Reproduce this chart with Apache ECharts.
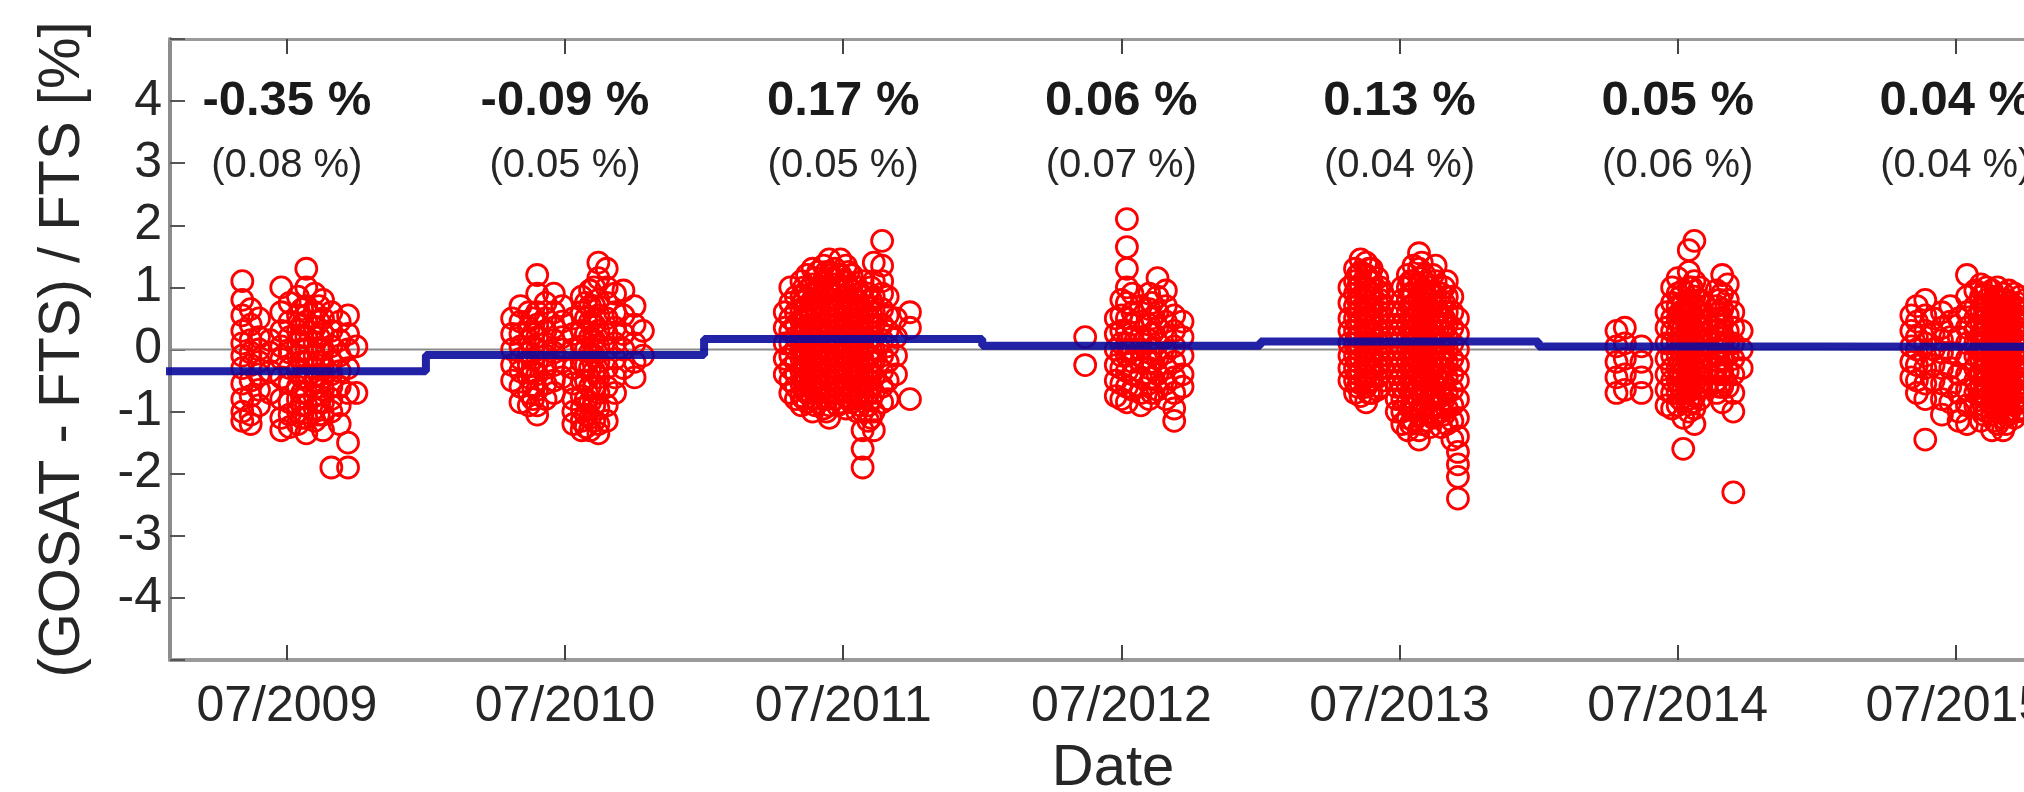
<!DOCTYPE html>
<html>
<head>
<meta charset="utf-8">
<script src="https://cdn.jsdelivr.net/npm/echarts@6/dist/echarts.min.js"></script>
<style>
html,body{margin:0;padding:0;background:#fff;}
#chart{width:2024px;height:792px;}
</style>
</head>
<body>
<div id="chart"></div>
<script>
// ---- axis / tick data ----
const xMin = 2009.08;
const xMax = 2015.86;
const xTickValues = [2009.5, 2010.5, 2011.5, 2012.5, 2013.5, 2014.5, 2015.5];
const xTickLabels = ['07/2009', '07/2010', '07/2011', '07/2012', '07/2013', '07/2014', '07/2015'];

// ---- annual bias annotations ----
const meanBiasText = ['-0.35 %', '-0.09 %', '0.17 %', '0.06 %', '0.13 %', '0.05 %', '0.04 %'];
const stdBiasText = ['(0.08 %)', '(0.05 %)', '(0.05 %)', '(0.07 %)', '(0.04 %)', '(0.06 %)', '(0.04 %)'];

// ---- annual bias step line (year start, level) ----
const biasYearStart = [2009, 2010, 2011, 2012, 2013, 2014, 2015, 2016];
const biasLevels = [-0.35, -0.09, 0.17, 0.06, 0.13, 0.05, 0.04, 0.04];

// ---- individual coincidences: [decimal date, [relative differences %]] ----
const obs2009 = [
  [2009.34, [1.1, 0.8, 0.55, 0.3, 0.1, -0.1, -0.3, -0.55, -0.8, -1.0, -1.15]],
  [2009.37, [0.65, 0.4, 0.15, -0.05, -0.25, -0.5, -0.75, -1.05, -1.2]],
  [2009.40, [0.5, 0.2, 0.0, -0.2, -0.4, -0.65, -0.9]],
  [2009.44, [0.15, -0.05, -0.35, -0.7]],
  [2009.48, [1.0, 0.6, 0.3, 0.05, -0.15, -0.45, -0.8, -1.1, -1.3]],
  [2009.51, [0.75, 0.45, 0.2, -0.05, -0.3, -0.55, -0.85, -1.05, -1.25]],
  [2009.54, [0.85, 0.55, 0.3, 0.1, -0.1, -0.35, -0.6, -0.8, -1.0, -1.2]],
  [2009.555, [0.65, 0.4, 0.2, 0.0, -0.2, -0.45, -0.7, -0.9, -1.1]],
  [2009.57, [1.3, 1.0, 0.7, 0.45, 0.2, 0.0, -0.2, -0.45, -0.7, -0.9, -1.1, -1.35]],
  [2009.60, [0.9, 0.6, 0.35, 0.1, -0.1, -0.3, -0.5, -0.75, -0.95, -1.15]],
  [2009.615, [0.7, 0.45, 0.2, 0.0, -0.2, -0.4, -0.6, -0.85, -1.05]],
  [2009.63, [0.8, 0.5, 0.25, 0.0, -0.25, -0.45, -0.65, -0.85, -1.05, -1.3]],
  [2009.66, [0.6, 0.3, 0.05, -0.2, -0.4, -0.6, -0.8, -1.0, -1.9]],
  [2009.69, [0.45, 0.15, -0.1, -0.35, -0.6, -0.9, -1.2]],
  [2009.72, [0.55, 0.25, 0.0, -0.3, -0.7, -1.5, -1.9]],
  [2009.75, [0.05, -0.7]]
];
const obs2010 = [
  [2010.31, [0.5, 0.25, 0.0, -0.25, -0.5]],
  [2010.34, [0.7, 0.45, 0.25, 0.05, -0.15, -0.35, -0.6, -0.85]],
  [2010.37, [0.6, 0.35, 0.15, -0.05, -0.25, -0.45, -0.7, -0.9]],
  [2010.385, [0.5, 0.25, 0.05, -0.15, -0.35, -0.6, -0.8]],
  [2010.40, [1.2, 0.9, 0.6, 0.4, 0.2, 0.0, -0.2, -0.4, -0.65, -0.9, -1.05]],
  [2010.43, [0.75, 0.5, 0.3, 0.1, -0.1, -0.3, -0.55, -0.8]],
  [2010.46, [0.9, 0.6, 0.35, 0.15, -0.05, -0.25, -0.5, -0.7]],
  [2010.49, [0.7, 0.45, 0.2, 0.0, -0.2, -0.45]],
  [2010.53, [0.5, 0.25, 0.0, -0.3, -0.55, -0.8, -1.0, -1.2]],
  [2010.56, [0.85, 0.6, 0.3, 0.05, -0.2, -0.5, -0.75, -0.95, -1.15, -1.3]],
  [2010.575, [0.75, 0.5, 0.25, 0.0, -0.25, -0.5, -0.8, -1.05, -1.25]],
  [2010.59, [0.95, 0.7, 0.45, 0.2, -0.05, -0.3, -0.6, -0.85, -1.1, -1.3]],
  [2010.605, [1.0, 0.7, 0.4, 0.15, -0.1, -0.35, -0.6, -0.9, -1.15]],
  [2010.62, [1.4, 1.15, 0.8, 0.55, 0.3, 0.05, -0.2, -0.45, -0.7, -0.95, -1.2, -1.35]],
  [2010.65, [1.3, 1.0, 0.75, 0.5, 0.25, 0.0, -0.3, -0.6, -0.9, -1.15]],
  [2010.68, [0.9, 0.6, 0.35, 0.1, -0.15, -0.45, -0.7]],
  [2010.71, [0.95, 0.55, 0.25, 0.0, -0.3]],
  [2010.75, [0.7, 0.4, 0.1, -0.2, -0.45]],
  [2010.78, [0.3, -0.1]]
];
const obs2011 = [
  [2011.29, [0.6, 0.35, 0.1, -0.15, -0.4]],
  [2011.31, [1.0, 0.75, 0.5, 0.3, 0.1, -0.1, -0.3, -0.5, -0.7]],
  [2011.33, [0.85, 0.6, 0.4, 0.2, 0.0, -0.2, -0.4, -0.6, -0.8]],
  [2011.35, [1.1, 0.85, 0.65, 0.45, 0.25, 0.05, -0.15, -0.35, -0.55, -0.75, -0.9]],
  [2011.36, [1.0, 0.8, 0.55, 0.35, 0.15, -0.05, -0.25, -0.45, -0.65, -0.8]],
  [2011.37, [1.2, 0.95, 0.7, 0.5, 0.3, 0.1, -0.1, -0.3, -0.5, -0.7, -0.85]],
  [2011.39, [1.3, 1.05, 0.8, 0.6, 0.4, 0.2, 0.0, -0.2, -0.4, -0.6, -0.8, -1.0]],
  [2011.40, [1.15, 0.9, 0.7, 0.5, 0.3, 0.1, -0.1, -0.3, -0.5, -0.7, -0.9]],
  [2011.41, [1.25, 1.0, 0.75, 0.55, 0.35, 0.15, -0.05, -0.25, -0.45, -0.65, -0.85]],
  [2011.43, [1.35, 1.1, 0.9, 0.65, 0.45, 0.25, 0.05, -0.15, -0.35, -0.55, -0.75, -0.95]],
  [2011.44, [1.25, 1.0, 0.8, 0.6, 0.4, 0.2, 0.0, -0.2, -0.4, -0.6, -0.8, -1.0]],
  [2011.45, [1.45, 1.2, 0.95, 0.7, 0.5, 0.3, 0.1, -0.1, -0.3, -0.5, -0.7, -0.9, -1.1]],
  [2011.47, [1.3, 1.05, 0.8, 0.6, 0.4, 0.2, 0.0, -0.2, -0.4, -0.6, -0.8]],
  [2011.48, [1.2, 1.0, 0.7, 0.5, 0.3, 0.1, -0.1, -0.3, -0.5, -0.7, -0.9]],
  [2011.49, [1.45, 1.2, 0.95, 0.75, 0.55, 0.35, 0.15, -0.05, -0.25, -0.45, -0.65, -0.85]],
  [2011.51, [1.35, 1.1, 0.85, 0.65, 0.45, 0.25, 0.05, -0.15, -0.35, -0.55, -0.75, -0.95]],
  [2011.52, [1.25, 1.0, 0.8, 0.6, 0.4, 0.2, 0.0, -0.2, -0.4, -0.6, -0.8]],
  [2011.53, [1.2, 0.95, 0.75, 0.55, 0.35, 0.15, -0.05, -0.25, -0.45, -0.65, -0.85]],
  [2011.55, [1.0, 0.8, 0.6, 0.4, 0.2, 0.0, -0.2, -0.4, -0.6, -0.8, -1.0]],
  [2011.56, [0.9, 0.7, 0.5, 0.3, 0.1, -0.1, -0.3, -0.5, -0.7, -0.9]],
  [2011.57, [1.1, 0.85, 0.65, 0.45, 0.25, 0.05, -0.15, -0.35, -0.55, -0.75, -1.0, -1.3, -1.6, -1.9]],
  [2011.59, [0.9, 0.7, 0.5, 0.3, 0.1, -0.1, -0.3, -0.5, -0.7, -0.9, -1.15]],
  [2011.60, [1.0, 0.8, 0.6, 0.4, 0.2, 0.0, -0.2, -0.4, -0.6, -0.8, -1.1]],
  [2011.61, [1.4, 1.1, 0.85, 0.6, 0.4, 0.2, 0.0, -0.2, -0.45, -0.7, -1.0, -1.3]],
  [2011.64, [1.75, 1.35, 1.1, 0.9, 0.65, 0.4, 0.15, -0.1, -0.35, -0.6, -0.85]],
  [2011.66, [0.85, 0.55, 0.3, 0.05, -0.2, -0.5, -0.8]],
  [2011.69, [0.5, 0.2, -0.1, -0.4]],
  [2011.74, [0.6, 0.35, -0.8]]
];
const obs2012 = [
  [2012.37, [0.2, -0.25]],
  [2012.48, [0.5, 0.25, 0.0, -0.25, -0.5, -0.75]],
  [2012.50, [0.8, 0.55, 0.3, 0.1, -0.1, -0.3, -0.55, -0.8]],
  [2012.52, [2.1, 1.65, 1.3, 1.0, 0.75, 0.5, 0.3, 0.1, -0.1, -0.35, -0.6, -0.85]],
  [2012.54, [0.9, 0.6, 0.4, 0.2, 0.0, -0.2, -0.4, -0.65]],
  [2012.57, [0.7, 0.45, 0.2, 0.0, -0.2, -0.45, -0.7, -0.9]],
  [2012.60, [0.9, 0.65, 0.4, 0.15, -0.05, -0.3, -0.55, -0.8]],
  [2012.61, [0.75, 0.5, 0.25, 0.0, -0.2, -0.45, -0.7]],
  [2012.63, [1.15, 0.85, 0.6, 0.35, 0.1, -0.15, -0.4, -0.65]],
  [2012.66, [0.95, 0.7, 0.45, 0.2, -0.05, -0.3, -0.55, -0.8]],
  [2012.69, [0.55, 0.3, 0.05, -0.2, -0.45, -0.7, -0.95, -1.15]],
  [2012.72, [0.45, 0.2, -0.1, -0.4, -0.6]]
];
const obs2013 = [
  [2013.32, [1.0, 0.75, 0.5, 0.3, 0.1, -0.1, -0.3, -0.5]],
  [2013.34, [1.3, 1.1, 0.9, 0.7, 0.5, 0.3, 0.1, -0.1, -0.3, -0.5, -0.7]],
  [2013.35, [1.2, 1.0, 0.8, 0.6, 0.4, 0.2, 0.0, -0.2, -0.4, -0.6]],
  [2013.36, [1.45, 1.25, 1.05, 0.85, 0.65, 0.45, 0.25, 0.05, -0.15, -0.35, -0.55, -0.75]],
  [2013.38, [1.4, 1.2, 1.0, 0.8, 0.6, 0.4, 0.2, 0.0, -0.2, -0.4, -0.6, -0.85]],
  [2013.39, [1.3, 1.1, 0.9, 0.7, 0.5, 0.3, 0.1, -0.1, -0.3, -0.5, -0.7]],
  [2013.40, [1.3, 1.1, 0.9, 0.7, 0.5, 0.3, 0.1, -0.1, -0.3, -0.5, -0.7]],
  [2013.42, [1.15, 0.95, 0.75, 0.55, 0.35, 0.15, -0.05, -0.25, -0.45, -0.65]],
  [2013.43, [1.0, 0.8, 0.6, 0.4, 0.2, 0.0, -0.2, -0.4, -0.6]],
  [2013.44, [0.9, 0.7, 0.5, 0.3, 0.1, -0.1, -0.3, -0.5]],
  [2013.49, [0.6, 0.4, 0.2, 0.0, -0.2, -0.4, -0.6, -0.8, -1.0]],
  [2013.51, [1.0, 0.8, 0.6, 0.4, 0.2, 0.0, -0.2, -0.4, -0.6, -0.8, -1.0, -1.2]],
  [2013.53, [1.2, 1.0, 0.8, 0.6, 0.4, 0.2, 0.0, -0.2, -0.4, -0.6, -0.85, -1.1, -1.3]],
  [2013.54, [1.1, 0.9, 0.7, 0.5, 0.3, 0.1, -0.1, -0.3, -0.5, -0.7, -0.95, -1.2]],
  [2013.55, [1.35, 1.1, 0.9, 0.7, 0.5, 0.3, 0.1, -0.1, -0.3, -0.5, -0.7, -0.9, -1.15]],
  [2013.57, [1.55, 1.3, 1.05, 0.85, 0.65, 0.45, 0.25, 0.05, -0.15, -0.35, -0.55, -0.8, -1.05, -1.3, -1.45]],
  [2013.58, [1.4, 1.15, 0.95, 0.75, 0.55, 0.35, 0.15, -0.05, -0.25, -0.45, -0.7, -0.95, -1.2]],
  [2013.59, [1.2, 0.95, 0.75, 0.55, 0.35, 0.15, -0.05, -0.25, -0.45, -0.65, -0.9, -1.15]],
  [2013.61, [1.0, 0.8, 0.6, 0.4, 0.2, 0.0, -0.2, -0.4, -0.6, -0.8, -1.0, -1.25]],
  [2013.62, [1.2, 0.9, 0.7, 0.5, 0.3, 0.1, -0.1, -0.3, -0.5, -0.7, -0.9, -1.1]],
  [2013.63, [1.35, 1.1, 0.85, 0.6, 0.4, 0.2, 0.0, -0.2, -0.4, -0.6, -0.8, -1.05]],
  [2013.65, [0.9, 0.7, 0.5, 0.3, 0.1, -0.1, -0.3, -0.5, -0.75, -1.0, -1.25]],
  [2013.66, [1.0, 0.75, 0.5, 0.3, 0.1, -0.1, -0.3, -0.55, -0.8, -1.05]],
  [2013.67, [1.1, 0.85, 0.6, 0.4, 0.2, 0.0, -0.2, -0.45, -0.7, -0.95, -1.2]],
  [2013.69, [0.85, 0.6, 0.35, 0.1, -0.15, -0.4, -0.65, -0.9, -1.15, -1.45]],
  [2013.71, [0.5, 0.25, 0.0, -0.25, -0.5, -0.8, -1.1, -1.4, -1.65, -1.85, -2.05, -2.4]]
];
const obs2014 = [
  [2014.28, [0.3, 0.05, -0.2, -0.45, -0.7]],
  [2014.31, [0.35, 0.1, -0.15, -0.4, -0.65]],
  [2014.37, [0.05, -0.2, -0.45, -0.7]],
  [2014.46, [0.6, 0.35, 0.1, -0.15, -0.4, -0.65, -0.9]],
  [2014.48, [1.0, 0.75, 0.5, 0.3, 0.1, -0.1, -0.3, -0.5, -0.7, -0.95]],
  [2014.50, [1.15, 0.9, 0.7, 0.5, 0.3, 0.1, -0.1, -0.3, -0.5, -0.7, -0.9]],
  [2014.51, [0.85, 0.6, 0.4, 0.2, 0.0, -0.2, -0.4, -0.6, -0.8]],
  [2014.52, [0.95, 0.75, 0.55, 0.35, 0.15, -0.05, -0.25, -0.45, -0.65, -0.85, -1.1, -1.6]],
  [2014.54, [1.6, 1.25, 1.0, 0.8, 0.6, 0.4, 0.2, 0.0, -0.2, -0.4, -0.6, -0.8, -1.0]],
  [2014.55, [1.0, 0.75, 0.55, 0.35, 0.15, -0.05, -0.25, -0.45, -0.65, -0.85]],
  [2014.56, [1.75, 1.1, 0.85, 0.65, 0.45, 0.25, 0.05, -0.15, -0.35, -0.55, -0.75, -0.95, -1.2]],
  [2014.58, [1.0, 0.8, 0.6, 0.4, 0.2, 0.0, -0.2, -0.4, -0.6, -0.8]],
  [2014.60, [0.7, 0.45, 0.25, 0.05, -0.15, -0.35, -0.6]],
  [2014.64, [0.95, 0.7, 0.5, 0.3, 0.1, -0.1, -0.3, -0.5, -0.7]],
  [2014.65, [0.8, 0.6, 0.4, 0.2, 0.0, -0.2, -0.4, -0.6]],
  [2014.66, [1.2, 0.9, 0.65, 0.45, 0.25, 0.05, -0.15, -0.35, -0.6, -0.85]],
  [2014.68, [1.05, 0.8, 0.55, 0.3, 0.1, -0.1, -0.35, -0.6]],
  [2014.70, [0.6, 0.35, 0.1, -0.15, -0.4, -0.7, -1.0, -2.3]],
  [2014.73, [0.3, 0.0, -0.3]]
];
const obs2015 = [
  [2015.34, [0.55, 0.3, 0.05, -0.2, -0.45]],
  [2015.36, [0.7, 0.45, 0.2, 0.0, -0.25, -0.5, -0.7]],
  [2015.39, [0.8, 0.55, 0.3, 0.1, -0.1, -0.3, -0.55, -0.8, -1.45]],
  [2015.42, [0.5, 0.25, 0.0, -0.25, -0.5]],
  [2015.45, [0.6, 0.35, 0.15, -0.05, -0.3, -0.55, -0.8, -1.05]],
  [2015.48, [0.7, 0.45, 0.2, -0.05, -0.3, -0.6, -0.85]],
  [2015.51, [0.5, 0.2, -0.1, -0.4, -0.7, -1.0, -1.15]],
  [2015.54, [1.2, 0.85, 0.6, 0.35, 0.1, -0.15, -0.4, -0.65, -0.9, -1.2]],
  [2015.57, [0.95, 0.7, 0.5, 0.3, 0.1, -0.1, -0.3, -0.5, -0.7, -0.9]],
  [2015.59, [1.05, 0.85, 0.65, 0.45, 0.25, 0.05, -0.15, -0.35, -0.55, -0.75, -0.95, -1.15]],
  [2015.60, [0.9, 0.7, 0.5, 0.3, 0.1, -0.1, -0.3, -0.5, -0.7, -0.9, -1.05]],
  [2015.61, [1.0, 0.8, 0.6, 0.4, 0.2, 0.0, -0.2, -0.4, -0.6, -0.8, -1.0]],
  [2015.63, [0.95, 0.75, 0.55, 0.35, 0.15, -0.05, -0.25, -0.45, -0.65, -0.85, -1.05, -1.3]],
  [2015.64, [0.85, 0.65, 0.45, 0.25, 0.05, -0.15, -0.35, -0.55, -0.75, -0.95, -1.15]],
  [2015.65, [1.0, 0.8, 0.6, 0.4, 0.2, 0.0, -0.2, -0.4, -0.6, -0.8, -1.0, -1.2]],
  [2015.67, [0.9, 0.7, 0.5, 0.3, 0.1, -0.1, -0.3, -0.5, -0.7, -0.9, -1.1, -1.3]],
  [2015.68, [0.8, 0.6, 0.4, 0.2, 0.0, -0.2, -0.4, -0.6, -0.8, -1.0, -1.2]],
  [2015.69, [0.95, 0.75, 0.55, 0.35, 0.15, -0.05, -0.25, -0.45, -0.65, -0.85, -1.05]],
  [2015.71, [0.9, 0.7, 0.5, 0.3, 0.1, -0.1, -0.3, -0.5, -0.7, -0.9, -1.1]],
  [2015.72, [0.75, 0.55, 0.35, 0.15, -0.05, -0.25, -0.45, -0.65, -0.85, -1.0]],
  [2015.73, [0.85, 0.65, 0.45, 0.25, 0.05, -0.15, -0.35, -0.55, -0.75, -0.95]],
  [2015.75, [0.8, 0.6, 0.4, 0.2, 0.0, -0.2, -0.4, -0.6, -0.8, -1.0]]
];

// ---- build series data from the arrays ----
const allObs = [obs2009, obs2010, obs2011, obs2012, obs2013, obs2014, obs2015];
const scatterData = [];
allObs.forEach(function (yr) {
  yr.forEach(function (col) {
    col[1].forEach(function (v) { scatterData.push([col[0], v]); });
  });
});
const stepData = biasYearStart.map(function (x, i) { return [x, biasLevels[i]]; });
const meanLabelData = xTickValues.map(function (x) { return [x, 4]; });
const stdLabelData = xTickValues.map(function (x) { return [x, 2.95]; });

const FONT = "'Liberation Sans', Arial, Helvetica, sans-serif";
const TEXT = '#262626';

function xLabel(v) {
  for (let i = 0; i < xTickValues.length; i++) {
    if (Math.abs(xTickValues[i] - v) < 1e-6) return xTickLabels[i];
  }
  return '';
}

const chart = echarts.init(document.getElementById('chart'), null, { renderer: 'canvas' });
chart.setOption({
  animation: false,
  backgroundColor: '#ffffff',
  grid: { left: 170, top: 39, right: -32, bottom: 132, containLabel: false, outerBoundsMode: 'none' },
  xAxis: [
    {
      type: 'value', position: 'bottom', min: xMin, max: xMax,
      name: 'Date', nameLocation: 'middle', nameGap: 80,
      nameTextStyle: { fontFamily: FONT, fontSize: 58, color: TEXT },
      axisLine: { show: true, onZero: false, lineStyle: { color: '#9a9a9a', width: 4 } },
      axisTick: { show: true, inside: true, length: 15, customValues: xTickValues, lineStyle: { color: '#444', width: 2 } },
      axisLabel: { show: true, customValues: xTickValues, formatter: xLabel, margin: 22,
        fontFamily: FONT, fontSize: 50, color: TEXT },
      splitLine: { show: false }
    },
    {
      type: 'value', position: 'top', min: xMin, max: xMax,
      axisLine: { show: true, onZero: false, lineStyle: { color: '#9a9a9a', width: 3 } },
      axisTick: { show: true, inside: true, length: 15, customValues: xTickValues, lineStyle: { color: '#444', width: 2 } },
      axisLabel: { show: false },
      splitLine: { show: false }
    }
  ],
  yAxis: {
    type: 'value', min: -5, max: 5, interval: 1,
    name: '(GOSAT - FTS) / FTS [%]', nameLocation: 'middle', nameGap: 78,
    nameTextStyle: { fontFamily: FONT, fontSize: 58, color: TEXT },
    axisLine: { show: true, onZero: false, lineStyle: { color: '#8c8c8c', width: 4 } },
    axisTick: { show: true, inside: true, length: 15, lineStyle: { color: '#555', width: 2 } },
    axisLabel: { fontFamily: FONT, fontSize: 50, color: TEXT, margin: 8,
      formatter: function (v) { return (v <= -5 || v >= 5) ? '' : String(v); } },
    splitLine: { show: false }
  },
  series: [
    {
      name: 'zero', type: 'line', z: 1, silent: true, showSymbol: false,
      data: [[xMin, 0], [xMax, 0]],
      lineStyle: { color: '#8a8a8a', width: 2 }
    },
    {
      name: 'coincidences', type: 'scatter', z: 2, silent: true,
      symbol: 'circle', symbolSize: 21,
      itemStyle: { color: 'rgba(255,255,255,0)', borderColor: '#ff0000', borderWidth: 2.8, opacity: 1 },
      data: scatterData
    },
    {
      name: 'annual bias', type: 'line', z: 3, silent: true, step: 'end', showSymbol: false,
      data: stepData,
      lineStyle: { color: '#0a0a9c', width: 8, opacity: 0.9 }
    },
    {
      name: 'mean', type: 'scatter', z: 5, silent: true, symbolSize: 0.1,
      itemStyle: { color: 'rgba(0,0,0,0)', opacity: 1 },
      data: meanLabelData,
      label: { show: true, position: 'inside', fontFamily: FONT, fontWeight: 'bold', fontSize: 49, color: '#1a1a1a',
        textBorderWidth: 0, opacity: 1,
        formatter: function (p) { return meanBiasText[p.dataIndex]; } }
    },
    {
      name: 'std', type: 'scatter', z: 5, silent: true, symbolSize: 0.1,
      itemStyle: { color: 'rgba(0,0,0,0)', opacity: 1 },
      data: stdLabelData,
      label: { show: true, position: 'inside', fontFamily: FONT, fontSize: 40, color: '#262626',
        textBorderWidth: 0, opacity: 1,
        formatter: function (p) { return stdBiasText[p.dataIndex]; } }
    }
  ]
});
</script>
</body>
</html>
